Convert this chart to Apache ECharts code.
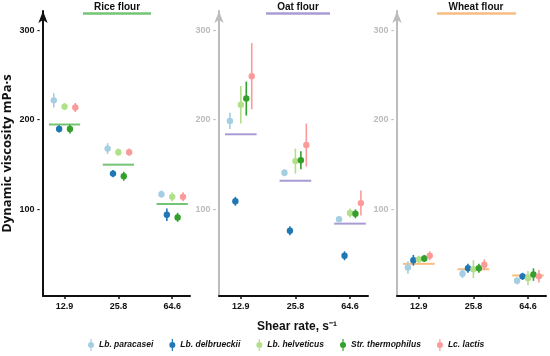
<!DOCTYPE html>
<html>
<head>
<meta charset="utf-8">
<script src="https://cdn.jsdelivr.net/npm/echarts@6.0.0/dist/echarts.min.js"></script>
<style>html,body{margin:0;padding:0;background:#fff;}#chart{width:550px;height:356px;}</style>
</head>
<body>
<div id="chart"></div>
<script>
// ---- data ----
const categories = ['12.9', '25.8', '64.6'];
const species = ['Lb. paracasei', 'Lb. delbrueckii', 'Lb. helveticus', 'Str. thermophilus', 'Lc. lactis'];
const flours = ['Rice flour', 'Oat flour', 'Wheat flour'];
const yTicks = [100, 200, 300];

// Rice flour: means and error (±)
const riceParacasei = [222, 168, 117], riceParacaseiErr = [8, 6, 4];
const riceDelbrueckii = [190, 140, 94], riceDelbrueckiiErr = [4, 4, 7];
const riceHelveticus = [215, 164, 114], riceHelveticusErr = [4, 4, 5];
const riceThermophilus = [190, 137, 91], riceThermophilusErr = [5, 5, 5];
const riceLactis = [214, 164, 114], riceLactisErr = [5, 4, 5];
const riceMean = [195, 150, 106];

// Oat flour
const oatParacasei = [199, 141, 89], oatParacaseiErr = [9, 4, 3];
const oatDelbrueckii = [109, 76, 48], oatDelbrueckiiErr = [5, 5, 5];
const oatHelveticus = [217, 154, 96], oatHelveticusErr = [21, 14, 5];
const oatThermophilus = [224, 155, 95], oatThermophilusErr = [19, 10, 5];
const oatLactis = [249, 172, 107], oatLactisErr = [37, 24, 14];
const oatMean = [184, 132, 84];

// Wheat flour
const wheatParacasei = [35, 28, 20], wheatParacaseiErr = [7, 5, 4];
const wheatDelbrueckii = [43, 34, 25], wheatDelbrueckiiErr = [6, 5, 4];
const wheatHelveticus = [44, 33, 23], wheatHelveticusErr = [4, 10, 8];
const wheatThermophilus = [45, 34, 27], wheatThermophilusErr = [4, 5, 7];
const wheatLactis = [48, 38, 25], wheatLactisErr = [5, 6, 7];
const wheatMean = [39, 33, 26];

// ---- styling ----
const speciesColors = ['#a6cee3', '#1f78b4', '#b2df8a', '#33a02c', '#fb9a99'];
const flourColors = ['#74c476', '#a99bd3', '#f9bd80'];
const dodge = [-0.2, -0.1, 0, 0.1, 0.2];
const FONT = 'Liberation Sans';

const panels = [
  { means: [riceParacasei, riceDelbrueckii, riceHelveticus, riceThermophilus, riceLactis],
    errs: [riceParacaseiErr, riceDelbrueckiiErr, riceHelveticusErr, riceThermophilusErr, riceLactisErr],
    mean: riceMean },
  { means: [oatParacasei, oatDelbrueckii, oatHelveticus, oatThermophilus, oatLactis],
    errs: [oatParacaseiErr, oatDelbrueckiiErr, oatHelveticusErr, oatThermophilusErr, oatLactisErr],
    mean: oatMean },
  { means: [wheatParacasei, wheatDelbrueckii, wheatHelveticus, wheatThermophilus, wheatLactis],
    errs: [wheatParacaseiErr, wheatDelbrueckiiErr, wheatHelveticusErr, wheatThermophilusErr, wheatLactisErr],
    mean: wheatMean }
];

const gridLefts = [41, 219, 397];
const titleCenters = [117, 298, 476];
const titleBars = [[83, 151], [266, 330], [437, 516]];

const grid = [], xAxis = [], yAxis = [], series = [], graphic = [];

function renderPoint(params, api) {
  const x = api.value(0), y = api.value(1), lo = api.value(2), hi = api.value(3);
  const p = api.coord([x, y]), a = api.coord([x, lo]), b = api.coord([x, hi]);
  const color = api.visual('color');
  return { type: 'group', children: [
    { type: 'line', shape: { x1: a[0], y1: a[1], x2: b[0], y2: b[1] }, style: { stroke: color, lineWidth: 1.6 } },
    { type: 'circle', shape: { cx: p[0], cy: p[1], r: 3.2 }, style: { fill: color } }
  ]};
}
function renderMean(params, api) {
  const x = api.value(0), y = api.value(1);
  const a = api.coord([x - 0.29, y]), b = api.coord([x + 0.29, y]);
  return { type: 'line', shape: { x1: a[0], y1: a[1], x2: b[0], y2: b[1] },
    style: { stroke: api.visual('color'), lineWidth: 2 } };
}

panels.forEach((pn, i) => {
  const axisColor = i === 0 ? '#111' : '#bdbdbd';
  const labelColor = i === 0 ? '#111' : '#bbbbbb';
  grid.push({ left: gridLefts[i], width: 149, top: 11, height: 285 });
  xAxis.push({
    gridIndex: i, type: 'value', min: 0.6, max: 3.33,
    axisLine: { show: true, onZero: false, lineStyle: { color: '#111', width: 2 } },
    axisTick: { show: true, customValues: [1, 2, 3], length: 3, lineStyle: { color: '#111', width: 1.5 } },
    axisLabel: { customValues: [1, 2, 3], formatter: v => categories[Math.round(v) - 1],
      color: '#111', fontFamily: FONT, fontWeight: 'bold', fontSize: 9, margin: 6 },
    splitLine: { show: false }
  });
  yAxis.push({
    gridIndex: i, type: 'value', min: 3, max: 322,
    name: i === 0 ? 'Dynamic viscosity mPa·s' : '',
    nameLocation: 'middle', nameGap: 29,
    nameTextStyle: { color: '#111', fontFamily: 'Open Sans', fontWeight: 'bold', fontSize: 13 },
    axisLine: { show: true, symbol: ['none', 'arrow'], symbolSize: [7, 12],
      lineStyle: { color: axisColor, width: 2 } },
    axisTick: { show: false },
    axisLabel: { customValues: yTicks, formatter: '{value} -', color: labelColor,
      fontFamily: FONT, fontWeight: 'bold', fontSize: 9, margin: 3 },
    splitLine: { show: false }
  });
  // mean line
  series.push({
    type: 'custom', xAxisIndex: i, yAxisIndex: i, renderItem: renderMean,
    itemStyle: { color: flourColors[i] },
    data: pn.mean.map((m, c) => [c + 1, m]), z: 1
  });
  species.forEach((sp, s) => {
    series.push({
      type: 'custom', name: sp, xAxisIndex: i, yAxisIndex: i, renderItem: renderPoint,
      itemStyle: { color: speciesColors[s] },
      data: pn.means[s].map((m, c) => [c + 1 + dodge[s], m, m - pn.errs[s][c], m + pn.errs[s][c]]),
      z: 2
    });
  });
  graphic.push({ type: 'text', x: titleCenters[i], y: 7,
    style: { text: flours[i], fill: '#111', font: 'bold 10px "' + FONT + '"', align: 'center', verticalAlign: 'middle' } });
  graphic.push({ type: 'line', shape: { x1: titleBars[i][0], y1: 13.5, x2: titleBars[i][1], y2: 13.5 },
    style: { stroke: flourColors[i], lineWidth: 2.5 } });
});

graphic.push({ type: 'text', x: 297, y: 327,
  style: { text: 'Shear rate, s⁻¹', fill: '#111', font: 'bold 12px "' + FONT + '"', align: 'center', verticalAlign: 'middle' } });

const legendIcon = 'path://M4.4,0L5.6,0L5.6,12L4.4,12Z M2,6A3,3 0 1 1 8,6A3,3 0 1 1 2,6Z';

const option = {
  animation: false,
  backgroundColor: '#fff',
  grid, xAxis, yAxis, series, graphic,
  legend: {
    data: species, left: 83, top: 334, icon: legendIcon,
    itemWidth: 6, itemHeight: 12, itemGap: 16,
    textStyle: { fontFamily: FONT, fontStyle: 'italic', fontWeight: 'bold', fontSize: 8.5, color: '#111' }
  }
};

const chart = echarts.init(document.getElementById('chart'), null, { renderer: 'canvas' });
chart.setOption(option);
</script>
</body>
</html>
